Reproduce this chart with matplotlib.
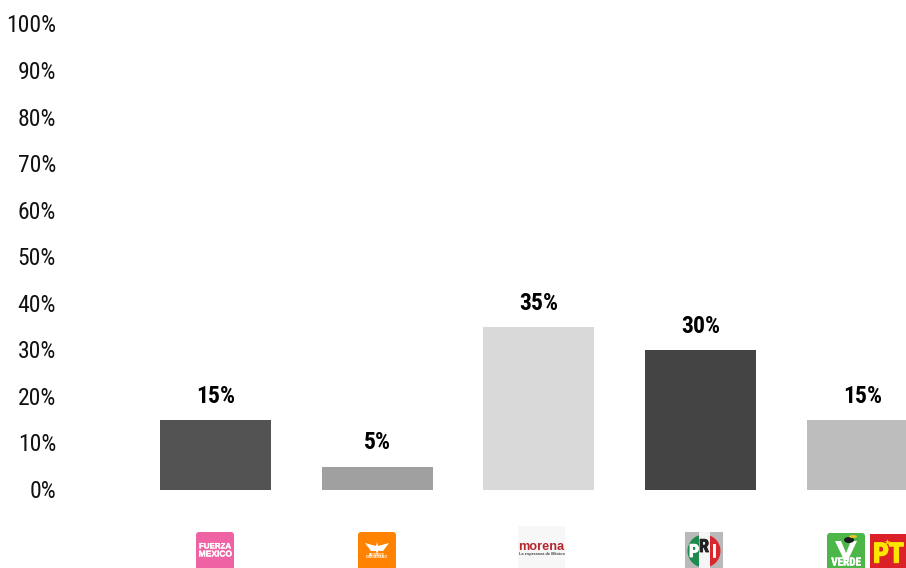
import matplotlib
matplotlib.use("Agg")
import matplotlib.pyplot as plt
import matplotlib.patches as mpatches
import matplotlib.patheffects as pe
from matplotlib.transforms import ScaledTranslation

NARROW = "Roboto Condensed"
plt.rcParams["font.family"] = [NARROW, "Archivo Narrow", "Liberation Sans", "DejaVu Sans"]

W, H = 906, 568

parties = ["Fuerza Mexico", "Movimiento Ciudadano", "Morena", "PRI", "Verde-PT"]
values = [15, 5, 35, 30, 15]
bar_colors = ["#535353", "#a0a0a0", "#d9d9d9", "#444444", "#bdbdbd"]
y_ticks = [0, 10, 20, 30, 40, 50, 60, 70, 80, 90, 100]

fig = plt.figure(figsize=(W / 100, H / 100), dpi=100, facecolor="white")

# main axes, lined up on the pixel positions of the reference
left, right, top, bottom = 60, 906, 24.5, 490
ax = fig.add_axes([left / W, 1 - bottom / H, (right - left) / W, (bottom - top) / H])
ax.set_ylim(0, 100)
band = 161.75
first = 215.3
ax.set_xlim((left - first) / band, (right - first) / band)
ax.bar(range(len(values)), values, width=0.686, color=bar_colors)
for i, v in enumerate(values):
    ax.annotate(f"{v}%", (i, v), xytext=(0, 12.5), textcoords="offset pixels",
                ha="center", va="bottom", fontsize=17, fontweight="bold", color="black")
ax.set_yticks(y_ticks)
ax.set_yticklabels([f"{t}%" for t in y_ticks], fontsize=17, color="#111111")
ax.tick_params(axis="y", length=0, pad=2.9)
# labels sit one pixel higher in the reference
up = ScaledTranslation(0, 1 / 100, fig.dpi_scale_trans)
for lab in ax.get_yticklabels():
    lab.set_transform(lab.get_transform() + up)
ax.set_xticks([])
for s in ax.spines.values():
    s.set_visible(False)
ax.patch.set_alpha(0)

# logo strip, in pixel coordinates
lg = fig.add_axes([0, 0, 1, 1])
lg.set_xlim(0, W)
lg.set_ylim(H, 0)
lg.axis("off")
lg.patch.set_alpha(0)


def box(x, y, w, h, color, rad=3):
    lg.add_patch(mpatches.FancyBboxPatch((x + rad, y + rad), w - 2 * rad, h - 2 * rad,
                                         boxstyle=f"round,pad={rad},rounding_size={rad}",
                                         fc=color, ec="none"))


def small(x, y, s, size, color="white", weight="bold", family="Liberation Sans", fat=0):
    t = lg.text(x, y, s, ha="center", va="center", fontsize=size, color=color,
                fontweight=weight, family=family)
    if fat:
        t.set_path_effects([pe.withStroke(linewidth=fat, foreground=color)])


# Fuerza Mexico
box(196, 532, 38, 42, "#ef63a5")
small(215, 547, "FUERZA", 5.7, fat=0.2)
small(215.5, 555, "MEXICO", 6.1, fat=0.2)

# Movimiento Ciudadano
box(358, 532, 38, 42, "#ff8300")
lg.add_patch(mpatches.Polygon([(365, 543), (376, 546), (377, 542), (378, 546), (389, 543),
                               (383, 551), (378, 551), (377, 554), (376, 551), (371, 551)],
                              fc="white", ec="none"))
small(377, 554.5, "MOVIMIENTO", 1.8)
small(377, 557.5, "CIUDADANO", 2.6)

# Morena
box(518, 526, 47, 46, "#f7f7f7", rad=1)
small(541.5, 547, "morena", 9.2, color="#b3282d")
small(541.5, 554.5, "La esperanza de México", 2.9, color="#444444")

# PRI
lg.add_patch(mpatches.Rectangle((685, 532), 38, 36, fc="#b9b9b9", ec="none"))
lg.add_patch(mpatches.Wedge((704, 551), 16.5, 90, 270, fc="#1d8a4e", ec="none"))
lg.add_patch(mpatches.Wedge((704, 551), 16.5, -90, 90, fc="#d9272e", ec="none"))
lg.add_patch(mpatches.Rectangle((699, 532), 10.5, 36, fc="#f5f5f5", ec="none"))
small(694, 552, "P", 13, family=NARROW, fat=0.6)
small(704, 547, "R", 13, color="#222222", family=NARROW, fat=0.6)
small(714, 552, "I", 13, family=NARROW, fat=0.6)

# Verde + PT
box(827, 533, 38, 42, "#4cb748")
lg.add_patch(mpatches.Polygon([(835, 541), (841, 541), (846, 553), (851, 541), (857, 541),
                               (848, 560), (844, 560)], fc="white", ec="none"))
lg.add_patch(mpatches.Ellipse((849, 540), 10, 6, fc="#1a1a1a", ec="none"))
lg.add_patch(mpatches.Ellipse((853, 536.5), 8, 3, fc="#e9c12c", ec="none"))
small(846, 562.5, "VERDE", 8, family=NARROW, fat=0.3)
lg.add_patch(mpatches.Rectangle((870, 534), 36, 34, fc="#dc2027", ec="none"))
small(888.5, 555, "PT", 20, color="#ffe600", family=NARROW, fat=1.0)
lg.plot([887], [542], marker="*", ms=5, color="#ffe600", mec="none")

fig.savefig("out.png", dpi=100)
